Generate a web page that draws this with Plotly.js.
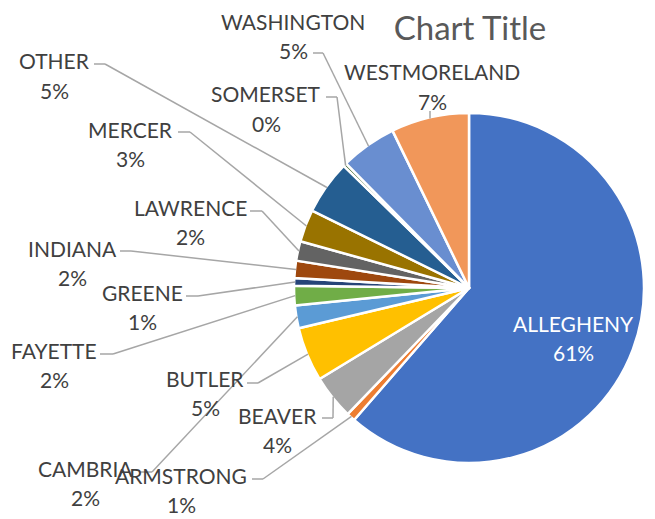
<!DOCTYPE html>
<html>
<head>
<meta charset="utf-8">
<script src="https://cdn.plot.ly/plotly-3.0.1.min.js"></script>
<style>html,body{margin:0;padding:0;background:#fff;}#chart{width:655px;height:519px;}</style>
</head>
<body>
<div id="chart"></div>
<script>
// ---- data ----
const categories = ["ALLEGHENY","ARMSTRONG","BEAVER","BUTLER","CAMBRIA","FAYETTE","GREENE","INDIANA","LAWRENCE","MERCER","OTHER","SOMERSET","WASHINGTON","WESTMORELAND"];
const values = [61.4, 0.8, 4.1, 5.0, 2.1, 1.8, 0.7, 1.6, 1.8, 3.0, 5.0, 0.3, 5.2, 7.2];
const colors = ["#4472C4","#ED7D31","#A5A5A5","#FFC000","#5B9BD5","#70AD47","#264478","#9E480E","#636363","#997300","#255E91","#43682B","#698ED0","#F1975A"];

// ---- layout (pixel positions of label text and leader line starts/elbows) ----
const W = 655, H = 519;
const cx = 469, cy = 288, R = 175;
const lineGap = 29.5;
// first-line center x / y, leader start x / y, elbow x
const labelX =  [573, 181, 277, 205,  85,  54, 142,  72, 190, 130,  54, 266, 293, 432];
const labelY =  [322, 474, 414, 377, 467, 349, 291, 247, 206, 128,  60,  93,  20,  71];
const leadSX =  [null,252, 322, 247, 140, 100, 186, 120, 250, 178,  94, 326, 313, 430];
const leadSY =  [null,479, 418, 383, 472, 354, 296, 251, 211, 132,  64,  97,  53, 111];
const elbowX =  [null,263, 333, 258, 152, 113, 198, 131, 262, 190, 105, 337, 323, 430];

const total = values.reduce((a,b)=>a+b,0);
const px = x => x / W;
const py = y => 1 - y / H;

const annotations = [];
const shapes = [];
let cum = 0;
categories.forEach((name, i) => {
  const f0 = cum / total;
  cum += values[i];
  const f1 = cum / total;
  const mid = (f0 + f1) / 2 * 2 * Math.PI;
  const ex = cx + (R - 1) * Math.sin(mid);
  const ey = cy - (R - 1) * Math.cos(mid);
  const pct = Math.round(values[i] / total * 100) + '%';
  const font = {family: 'Lato, sans-serif', size: 21, color: i === 0 ? '#ffffff' : '#404040'};
  [name, pct].forEach((t, k) => {
    annotations.push({
      xref: 'paper', yref: 'paper', x: px(labelX[i]), y: py(labelY[i] + k * lineGap + 1),
      xanchor: 'center', yanchor: 'middle', showarrow: false, text: t, font: font
    });
  });
  if (leadSX[i] !== null) {
    const lc = {color: '#A6A6A6', width: 1.5};
    shapes.push({type: 'line', xref: 'paper', yref: 'paper',
      x0: px(leadSX[i]), y0: py(leadSY[i]), x1: px(elbowX[i]), y1: py(leadSY[i]), line: lc});
    shapes.push({type: 'line', xref: 'paper', yref: 'paper',
      x0: px(elbowX[i]), y0: py(leadSY[i]), x1: px(ex), y1: py(ey), line: lc});
  }
});

const trace = {
  type: 'pie',
  labels: categories,
  values: values,
  sort: false,
  direction: 'clockwise',
  rotation: 0,
  textinfo: 'none',
  hoverinfo: 'label+percent',
  marker: {colors: colors, line: {color: '#ffffff', width: 2.5}},
  domain: {x: [px(cx - R), px(cx + R)], y: [py(cy + R), py(cy - R)]},
  showlegend: false
};

const layout = {
  width: W, height: H,
  margin: {l: 0, r: 0, t: 0, b: 0},
  paper_bgcolor: '#ffffff',
  showlegend: false,
  title: {text: 'Chart Title', font: {family: 'Lato, sans-serif', size: 33, color: '#595959'},
          x: px(470), xanchor: 'center', y: py(28), yanchor: 'middle', xref: 'paper', yref: 'container'},
  annotations: annotations,
  shapes: shapes
};

Plotly.newPlot('chart', [trace], layout, {displayModeBar: false, staticPlot: true});
</script>
</body>
</html>
